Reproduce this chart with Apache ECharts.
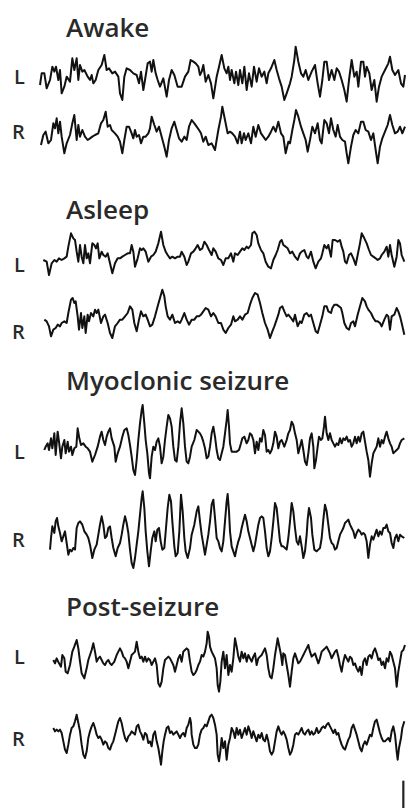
<!DOCTYPE html>
<html><head><meta charset="utf-8">
<script src="https://cdn.jsdelivr.net/npm/echarts@6/dist/echarts.min.js"></script>
<style>html,body{margin:0;padding:0;background:#fff}#c{width:406px;height:809px}</style>
</head><body><div id="c"></div>
<script>
// Each trace: [time sample, deflection] pairs read from the recording
const awakeL = [[15,135],[20,100],[28,100],[35,145],[45,120],[52,80],[58,95],[63,80],[70,120],[75,90],[80,160],[88,140],[95,110],[105,125],[112,55],[118,90],[125,55],[130,120],[135,75],[142,95],[148,90],[158,110],[165,120],[170,105],[175,130],[182,120],[190,90],[200,75],[208,45],[215,90],[222,85],[232,100],[240,95],[250,110],[255,160],[262,180],[268,110],[275,85],[285,90],[295,100],[305,105],[312,130],[318,95],[325,150],[330,120],[338,70],[345,65],[350,95],[355,60],[362,100],[368,120],[375,140],[385,115],[395,170],[402,120],[410,90],[418,105],[428,140],[440,140],[450,110],[460,95],[467,60],[475,65],[482,70],[490,80],[495,105],[500,95],[505,75],[512,125],[520,105],[528,130],[535,175],[545,110],[552,80],[560,45],[568,85],[575,100],[580,80],[585,120],[590,90],[598,130],[603,95],[610,135],[615,90],[622,130],[628,80],[635,150],[642,100],[650,140],[657,80],[665,125],[672,85],[680,110],[688,95],[695,130],[700,100],[708,85],[718,60],[725,90],[732,115],[740,140],[748,180],[755,160],[765,130],[770,110],[778,60],[782,20],[790,65],[798,100],[805,110],[812,90],[820,120],[830,95],[840,75],[848,130],[855,170],[862,120],[868,65],[875,65],[882,120],[890,90],[898,120],[905,85],[912,95],[920,120],[928,150],[935,185],[942,120],[950,60],[958,110],[965,95],[970,140],[978,65],[985,65],[990,110],[995,80],[1003,100],[1010,150],[1018,120],[1025,185],[1032,140],[1040,110],[1050,90],[1060,70],[1065,50],[1072,90],[1080,105],[1090,90],[1098,130],[1105,140],[1110,105]];
const awakeR = [[18,135],[25,105],[32,95],[40,130],[48,120],[55,70],[60,85],[65,55],[70,100],[75,65],[80,110],[88,160],[95,130],[105,105],[112,70],[118,45],[125,120],[130,75],[135,110],[142,90],[150,110],[158,120],[165,115],[172,110],[180,105],[190,100],[198,70],[205,60],[212,35],[218,80],[225,75],[230,90],[240,100],[248,110],[255,125],[262,160],[268,120],[275,80],[282,80],[290,100],[295,115],[300,90],[305,110],[312,105],[318,130],[325,110],[332,110],[340,100],[345,85],[350,50],[358,75],[365,95],[372,80],[380,110],[388,140],[395,170],[402,120],[410,85],[418,65],[425,90],[432,115],[440,125],[448,110],[455,120],[462,80],[470,60],[478,70],[485,80],[492,90],[498,100],[505,125],[512,110],[520,135],[530,130],[540,150],[550,90],[558,50],[562,20],[570,60],[578,100],[585,95],[592,100],[600,110],[608,130],[615,95],[620,130],[627,100],[632,120],[640,100],[648,130],[655,80],[662,110],[670,75],[678,100],[685,110],[692,120],[700,110],[708,95],[715,80],[722,95],[730,65],[738,100],[745,110],[752,160],[760,125],[765,130],[772,90],[778,60],[783,30],[790,50],[798,80],[805,100],[812,120],[818,155],[825,120],[832,80],[840,100],[848,70],[855,120],[860,130],[868,60],[875,70],[882,100],[888,55],[895,90],[902,110],[908,75],[915,110],[922,120],[930,125],[935,160],[940,190],[948,140],[955,105],[962,90],[970,100],[978,65],[985,65],[992,90],[1000,95],[1008,120],[1015,100],[1022,150],[1028,190],[1035,140],[1042,115],[1050,95],[1058,75],[1065,45],[1072,75],[1080,100],[1088,95],[1095,80],[1102,100],[1110,80]];
const asleepL = [[25,105],[35,110],[42,150],[50,115],[58,105],[65,110],[72,100],[80,105],[88,100],[95,95],[100,65],[108,25],[115,40],[120,45],[125,80],[130,110],[135,60],[140,95],[145,115],[150,60],[155,100],[160,85],[165,115],[172,55],[178,60],[183,70],[188,55],[193,100],[200,80],[205,90],[212,95],[218,85],[225,115],[232,145],[240,115],[248,100],[255,100],[262,95],[270,90],[278,85],[285,85],[290,60],[295,80],[300,125],[308,100],[315,70],[320,75],[325,70],[332,80],[340,110],[348,95],[355,90],[362,80],[370,55],[378,20],[385,60],[392,80],[398,90],[405,100],[412,95],[420,100],[428,95],[435,95],[440,80],[448,95],[455,120],[460,110],[468,85],[475,80],[482,70],[488,60],[495,75],[502,70],[508,50],[515,60],[522,75],[530,90],[535,70],[542,80],[550,100],[558,105],[565,120],[572,100],[580,100],[588,85],[595,110],[600,85],[608,90],[615,80],[622,70],[628,75],[635,65],[640,70],[648,60],[652,25],[658,20],[665,30],[670,55],[678,75],[685,85],[692,110],[700,125],[708,130],[715,105],[722,90],[728,75],[735,50],[740,45],[745,60],[752,65],[758,70],[765,85],[772,80],[780,95],[788,105],[795,85],[800,80],[808,75],[815,95],[820,100],[828,80],[835,110],[842,130],[850,110],[858,100],[862,85],[868,60],[875,70],[880,60],[888,95],[893,45],[900,45],[908,50],[915,45],[920,65],[925,80],[930,110],[935,115],[942,90],[948,85],[955,100],[962,120],[970,80],[975,55],[980,25],[988,40],[995,55],[1002,75],[1008,90],[1015,95],[1022,100],[1028,105],[1035,100],[1040,90],[1048,80],[1055,65],[1060,95],[1065,60],[1070,90],[1078,125],[1085,95],[1090,45],[1095,55],[1100,90],[1108,110]];
const asleepR = [[28,110],[35,115],[42,130],[48,160],[55,140],[62,135],[68,125],[75,130],[80,120],[88,115],[95,120],[100,90],[108,50],[113,45],[118,60],[122,55],[128,100],[132,140],[138,90],[142,135],[148,100],[152,150],[158,95],[162,115],[168,90],[175,100],[180,80],[185,90],[190,80],[198,120],[205,100],[210,95],[218,120],[225,150],[232,165],[240,130],[248,120],[255,110],[262,110],[270,100],[278,90],[285,70],[292,80],[298,120],[305,145],[312,110],[318,85],[325,100],[332,95],[338,110],[345,130],[352,125],[360,100],[368,70],[375,45],[382,20],[388,40],[392,70],[398,100],[405,110],[412,95],[420,120],[428,115],[435,120],[440,110],[448,90],[455,110],[462,125],[470,110],[478,110],[485,100],[492,100],[498,95],[505,85],[512,75],[520,80],[528,100],[535,90],[542,100],[550,120],[558,120],[565,140],[572,150],[580,135],[588,125],[595,100],[600,115],[608,110],[615,100],[622,110],[630,95],[638,90],[645,65],[652,45],[660,30],[668,35],[675,60],[682,90],[690,120],[698,140],[705,165],[712,145],[718,130],[725,110],[730,95],[735,75],[742,70],[748,85],[755,100],[760,95],[768,105],[775,115],[780,95],[788,130],[795,115],[800,120],[808,95],[815,90],[822,100],[828,95],[835,120],[842,145],[848,150],[855,125],[862,100],[868,70],[875,70],[880,85],[888,90],[892,75],[898,65],[905,65],[912,70],[918,75],[922,90],[928,120],[935,135],[942,140],[948,120],[955,115],[960,130],[968,95],[975,70],[982,45],[990,55],[995,70],[1000,80],[1008,90],[1015,105],[1022,115],[1028,115],[1035,120],[1040,130],[1048,110],[1055,95],[1060,100],[1065,140],[1070,100],[1078,95],[1085,75],[1090,85],[1095,100],[1100,120],[1108,155]];
const seizureL = [[28,150],[32,140],[38,130],[42,150],[48,115],[52,145],[58,100],[62,165],[68,95],[72,125],[78,175],[82,140],[88,120],[92,160],[98,125],[102,155],[108,140],[112,165],[118,145],[124,140],[128,85],[133,115],[138,135],[145,130],[152,140],[158,145],[165,155],[172,185],[180,165],[188,140],[195,110],[200,95],[205,120],[210,135],[215,110],[220,95],[225,85],[230,115],[238,140],[242,185],[248,160],[255,140],[262,110],[268,90],[275,85],[280,105],[285,135],[290,170],[295,210],[300,225],[305,180],[310,120],[315,70],[320,30],[323,15],[328,70],[332,120],[337,160],[342,220],[345,235],[350,170],[355,140],[360,150],[365,125],[370,115],[375,140],[380,190],[385,170],[390,120],[395,80],[400,45],[405,55],[410,80],[415,140],[420,180],[425,185],[430,140],[435,70],[440,25],[445,70],[450,140],[455,185],[460,190],[465,170],[470,140],[478,120],[485,90],[490,95],[495,100],[500,110],[505,125],[510,145],[515,175],[520,170],[525,140],[530,100],[535,80],[540,110],[545,150],[550,175],[555,180],[560,160],[565,140],[570,100],[575,60],[578,30],[582,80],[585,130],[590,155],[598,155],[605,155],[612,150],[618,130],[622,115],[628,110],[635,130],[640,120],[645,100],[650,105],[655,120],[660,160],[665,125],[670,150],[675,115],[680,125],[685,90],[690,105],[695,155],[700,150],[705,160],[710,150],[715,130],[720,95],[725,110],[730,145],[735,125],[740,120],[748,140],[755,120],[760,100],[765,90],[770,65],[775,75],[780,100],[785,120],[790,160],[795,140],[800,120],[805,150],[810,185],[815,195],[820,160],[825,115],[830,100],[835,140],[838,205],[843,180],[848,140],[852,110],[858,120],[862,115],[867,80],[870,50],[875,100],[880,120],[885,100],[890,120],[895,130],[900,140],[905,130],[910,135],[915,115],[920,130],[925,115],[930,120],[935,110],[940,125],[945,120],[950,140],[955,130],[960,110],[965,130],[970,110],[975,125],[980,100],[985,95],[990,125],[995,155],[1000,180],[1005,230],[1010,190],[1015,160],[1020,150],[1025,140],[1030,115],[1035,140],[1040,120],[1045,130],[1050,110],[1055,95],[1060,115],[1065,130],[1070,140],[1075,160],[1080,155],[1085,150],[1090,145],[1095,130],[1100,120],[1108,115]];
const seizureR = [[45,185],[48,150],[52,115],[58,135],[62,100],[66,90],[70,115],[75,135],[80,160],[85,145],[90,130],[95,165],[100,200],[105,185],[110,190],[115,180],[120,185],[125,120],[130,105],[135,100],[142,110],[148,130],[155,140],[160,150],[165,170],[172,210],[178,185],[185,170],[190,140],[195,110],[200,85],[205,110],[210,150],[215,145],[220,120],[225,115],[230,150],[235,180],[242,205],[248,180],[255,165],[260,140],[265,110],[270,85],[275,105],[280,135],[285,185],[290,225],[295,240],[300,210],[305,170],[310,130],[315,80],[320,30],[323,10],[328,60],[332,130],[337,190],[342,235],[347,190],[352,150],[358,130],[362,160],[367,125],[372,120],[377,160],[382,185],[388,180],[393,120],[398,60],[403,20],[408,40],[412,100],[418,175],[422,205],[428,195],[433,130],[438,20],[443,70],[448,150],[452,190],[458,210],[465,180],[470,140],[478,110],[485,70],[490,55],[495,100],[500,140],[505,170],[510,200],[515,170],[520,140],[525,100],[530,50],[535,35],[540,90],[545,150],[550,160],[555,180],[560,190],[565,160],[570,100],[575,40],[578,18],[582,70],[585,130],[590,175],[595,190],[600,205],[605,180],[610,160],[615,145],[620,120],[625,100],[630,80],[635,100],[640,130],[645,150],[650,170],[655,190],[660,170],[665,140],[670,110],[675,90],[680,85],[685,90],[690,130],[695,180],[700,205],[705,190],[710,150],[715,100],[720,45],[725,60],[730,110],[735,160],[740,175],[745,175],[750,180],[755,185],[760,150],[765,100],[770,45],[775,70],[780,120],[785,160],[790,170],[795,145],[800,175],[805,210],[810,190],[815,140],[818,95],[822,60],[828,90],[832,140],[838,185],[845,190],[850,185],[855,180],[860,150],[865,95],[870,50],[875,70],[880,110],[885,150],[890,165],[895,170],[900,185],[905,180],[910,160],[915,140],[920,130],[925,120],[930,105],[935,100],[940,95],[945,110],[950,120],[955,130],[960,150],[965,135],[970,125],[975,130],[980,140],[985,135],[990,140],[995,160],[1000,210],[1005,170],[1010,145],[1015,155],[1020,140],[1025,125],[1030,145],[1035,130],[1040,140],[1045,120],[1050,120],[1055,110],[1060,130],[1065,135],[1070,165],[1075,180],[1080,150],[1085,140],[1090,160],[1095,140],[1100,145],[1108,150]];
const postL = [[55,105],[60,115],[65,100],[72,115],[78,125],[82,90],[88,100],[92,140],[98,145],[105,120],[112,80],[118,65],[125,45],[130,70],[135,110],[140,145],[148,160],[155,130],[160,105],[165,90],[170,75],[175,55],[180,80],[185,110],[190,100],[195,95],[200,105],[205,115],[210,120],[215,110],[220,105],[225,115],[230,120],[238,110],[245,90],[250,80],[255,70],[260,80],[265,95],[270,100],[275,110],[280,130],[285,110],[290,90],[295,85],[300,80],[305,50],[310,80],[315,100],[320,95],[325,110],[330,95],[335,110],[340,100],[345,105],[350,120],[355,110],[360,100],[365,120],[370,175],[375,185],[380,170],[385,130],[390,105],[395,100],[400,95],[405,100],[410,110],[415,120],[420,140],[425,120],[430,100],[435,90],[440,110],[445,80],[450,75],[455,70],[460,75],[465,110],[470,140],[475,150],[480,145],[485,135],[490,120],[495,110],[500,90],[505,95],[510,80],[515,55],[518,20],[522,35],[525,65],[530,80],[535,90],[540,100],[545,130],[548,180],[552,200],[556,170],[560,110],[565,80],[570,130],[575,90],[580,150],[585,120],[590,140],[595,100],[600,40],[605,65],[610,95],[615,110],[620,80],[625,100],[630,85],[635,110],[640,90],[645,100],[650,110],[655,95],[660,85],[665,120],[670,100],[675,95],[680,90],[685,80],[690,70],[695,90],[700,130],[705,155],[710,160],[715,130],[720,90],[725,60],[728,40],[732,60],[738,90],[742,120],[745,85],[750,90],[755,120],[760,150],[765,185],[770,140],[775,100],[780,85],[785,100],[790,115],[795,110],[800,100],[805,90],[810,80],[815,70],[820,60],[825,80],[830,95],[835,90],[840,85],[845,100],[850,115],[855,100],[860,80],[865,75],[870,70],[875,65],[880,75],[885,85],[890,100],[895,90],[900,80],[905,75],[910,95],[915,120],[920,140],[925,110],[930,90],[935,100],[940,110],[945,95],[950,100],[955,120],[960,115],[965,130],[970,140],[975,125],[980,150],[985,110],[990,100],[995,120],[1000,95],[1005,90],[1010,100],[1015,80],[1020,70],[1025,85],[1030,105],[1035,100],[1040,120],[1045,110],[1050,130],[1055,100],[1060,110],[1065,80],[1070,90],[1075,110],[1080,130],[1085,185],[1090,140],[1095,110],[1100,80],[1105,75],[1110,60]];
const postR = [[55,60],[60,70],[65,65],[70,70],[75,65],[80,75],[85,100],[90,125],[95,135],[100,110],[105,80],[110,60],[115,55],[120,40],[125,20],[130,45],[135,70],[140,110],[145,140],[150,150],[155,130],[160,90],[165,70],[170,55],[175,45],[180,60],[185,80],[190,90],[195,85],[200,95],[205,110],[210,100],[215,105],[220,120],[225,125],[230,110],[235,100],[240,80],[245,60],[250,40],[255,30],[260,45],[265,70],[270,90],[275,100],[280,85],[285,80],[290,70],[295,75],[300,80],[305,55],[310,50],[315,70],[320,80],[325,95],[330,75],[335,80],[340,105],[345,100],[350,115],[355,80],[360,70],[365,100],[370,120],[375,150],[378,170],[382,130],[386,100],[390,80],[395,60],[400,55],[405,75],[410,70],[415,80],[420,75],[425,70],[430,80],[435,90],[440,80],[445,75],[450,85],[455,60],[460,50],[465,30],[468,45],[470,80],[475,110],[480,120],[485,120],[490,110],[495,80],[500,65],[505,60],[510,50],[515,55],[520,40],[525,25],[530,20],[535,30],[540,50],[545,80],[548,140],[552,160],[556,130],[560,90],[565,120],[570,100],[575,155],[580,110],[585,90],[590,60],[595,70],[600,90],[605,60],[610,80],[615,65],[620,90],[625,75],[630,60],[635,80],[640,55],[645,70],[650,90],[655,70],[660,85],[665,100],[670,80],[675,90],[680,75],[685,95],[690,100],[695,80],[700,100],[705,130],[710,140],[715,130],[720,100],[725,70],[730,55],[735,70],[740,80],[745,70],[750,80],[755,95],[760,120],[765,140],[770,130],[775,110],[780,80],[785,75],[790,80],[795,70],[800,60],[805,75],[810,80],[815,70],[820,65],[825,80],[830,70],[835,80],[840,75],[845,60],[850,75],[855,70],[860,60],[865,55],[870,60],[875,50],[880,45],[885,55],[890,65],[895,75],[900,65],[905,80],[910,75],[915,95],[920,110],[925,120],[930,125],[935,110],[940,95],[945,85],[950,60],[955,50],[960,65],[965,80],[970,100],[975,120],[980,130],[985,110],[990,100],[995,110],[1000,95],[1005,80],[1010,85],[1015,60],[1020,40],[1025,35],[1030,55],[1035,75],[1040,90],[1045,100],[1050,100],[1055,95],[1060,90],[1065,100],[1070,70],[1075,55],[1080,80],[1085,130],[1088,155],[1092,120],[1098,90],[1102,60],[1108,40]];
const scaleBar = [[1105,218],[1105,300]];

const stateNames = ['Awake', 'Asleep', 'Myoclonic seizure', 'Post-seizure'];
const channelNames = ['L', 'R'];
const traces = [awakeL, awakeR, asleepL, asleepR, seizureL, seizureR, postL, postR];

// layout (pixels) for each trace strip
const stripTop = [40, 100, 225, 283, 400, 488, 625, 708];
const stripH = [68, 65, 58, 62, 85, 87, 72, 101];
const headTop = [14, 196, 367, 593];
const chanY = [75, 130, 263, 330, 450, 538, 655, 737];
const chanX = [14, 12];

const grid = [], xAxis = [], yAxis = [], series = [];
traces.forEach((d, i) => {
  grid.push({left: 35, width: 371, top: stripTop[i], height: stripH[i]});
  xAxis.push({type: 'value', gridIndex: i, min: 0, max: 1113, show: false});
  yAxis.push({type: 'value', gridIndex: i, min: 0, max: stripH[i] * 3, inverse: true, show: false});
  series.push({type: 'line', xAxisIndex: i, yAxisIndex: i, data: d, showSymbol: false, symbol: 'none',
    lineStyle: {color: '#111', width: 2, join: 'round'}, animation: false, silent: true});
});
series.push({type: 'line', xAxisIndex: 7, yAxisIndex: 7, data: scaleBar, symbol: 'none',
  lineStyle: {color: '#222', width: 2.2}, animation: false, silent: true});

const graphic = [];
stateNames.forEach((t, k) => graphic.push({type: 'text', left: 66, top: headTop[k],
  style: {text: t, font: '600 26px "Open Sans"', fill: '#2a2a2a'}}));
chanY.forEach((y, i) => graphic.push({type: 'text', left: chanX[i % 2], top: y - 9,
  style: {text: channelNames[i % 2], font: '600 20px "Open Sans"', fill: '#2a2a2a'}}));

const chart = echarts.init(document.getElementById('c'), null, {renderer: 'svg'});
chart.setOption({backgroundColor: '#fff', animation: false, grid, xAxis, yAxis, series, graphic});
</script></body></html>
